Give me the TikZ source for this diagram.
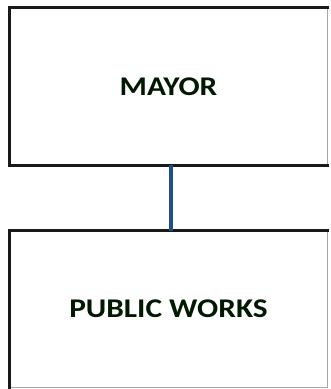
\documentclass[tikz,border=0pt]{standalone}
\usepackage{fontspec}
\setmainfont{Carlito}
\usepackage{tikz}

\definecolor{linkblue}{RGB}{31,78,140}
\newcommand{\widecaps}[1]{\scalebox{1.16}[1]{#1}}

\tikzset{
	orgbox/.style={minimum width=317pt, minimum height=157pt, inner sep=0pt, font=\bfseries\fontsize{27}{30}\selectfont, text=black!90!green},
	heavy/.style={line width=3pt, black!90, line cap=rect},
	faint/.style={line width=1pt, black!35},
	link/.style={line width=3.5pt, linkblue}
}

\begin{document}
\begin{tikzpicture}[x=1pt, y=-1pt]
	\useasboundingbox (0, 0) rectangle (330, 389);
	\fill [white] (0, 0) rectangle (330, 389);

	\node [orgbox] (mayor) at (168.5, 86.5) {\widecaps{MAYOR}};
	\node [orgbox, minimum height=156pt] (works) at (168.5, 309) {\widecaps{PUBLIC WORKS}};

	\draw [faint] (mayor.north east) -- (mayor.south east);
	\draw [faint] (works.north east) -- (works.south east) -- (works.south west);

	\draw [heavy] (mayor.south east) -- (mayor.south west) -- (mayor.north west) -- (mayor.north east);
	\draw [heavy] (works.south west) -- (works.north west) -- (works.north east);

	\draw [link] ([xshift=2.5pt]mayor.south) -- ([xshift=2.5pt]works.north);
\end{tikzpicture}
\end{document}
